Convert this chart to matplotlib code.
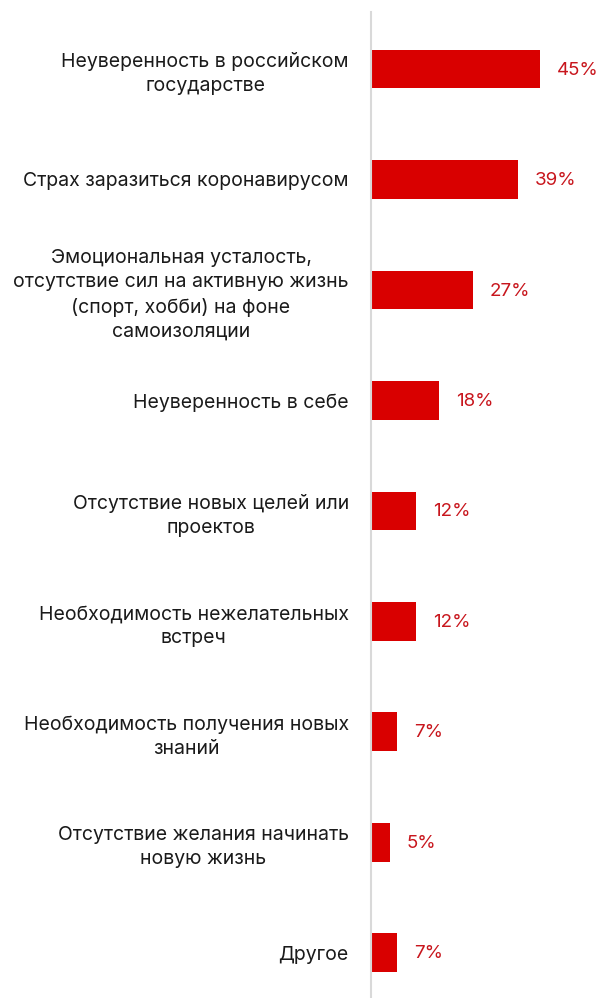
import matplotlib.pyplot as plt

plt.rcParams['font.family'] = ['Inter', 'DejaVu Sans']

labels = [
    'Неуверенность в российском\nгосударстве',
    'Страх заразиться коронавирусом',
    'Эмоциональная усталость,\nотсутствие сил на активную жизнь\n(спорт, хобби) на фоне\nсамоизоляции',
    'Неуверенность в себе',
    'Отсутствие новых целей или\nпроектов',
    'Необходимость нежелательных\nвстреч',
    'Необходимость получения новых\nзнаний',
    'Отсутствие желания начинать\nновую жизнь',
    'Другое',
]
values = [45, 39, 27, 18, 12, 12, 7, 5, 7]

fig = plt.figure(figsize=(6.01, 9.98), dpi=100)
ax = fig.add_axes([371 / 601, 0, 230 / 601, 986 / 998])

pos = list(range(len(values)))
ax.barh(pos, values, height=0.35, color='#d90000')
for p, v in zip(pos, values):
    ax.text(v + 4.5, p + 0.01, f'{v}%', va='center', ha='left',
            color='#c8161d', fontsize=13.5)

ax.set_xlim(0, 230 / 3.76)
ax.set_ylim(8.41, -0.516)
ax.set_yticks(pos)
ax.set_yticklabels(labels, fontsize=14, color='#1a1a1a',
                   multialignment='center', linespacing=1.42)
ax.tick_params(axis='y', length=0, pad=16)
ax.set_xticks([])
for side in ['top', 'right', 'bottom']:
    ax.spines[side].set_visible(False)
ax.spines['left'].set_color('#d9d9d9')
ax.spines['left'].set_linewidth(1.5)

fig.savefig('out.png', dpi=100)
